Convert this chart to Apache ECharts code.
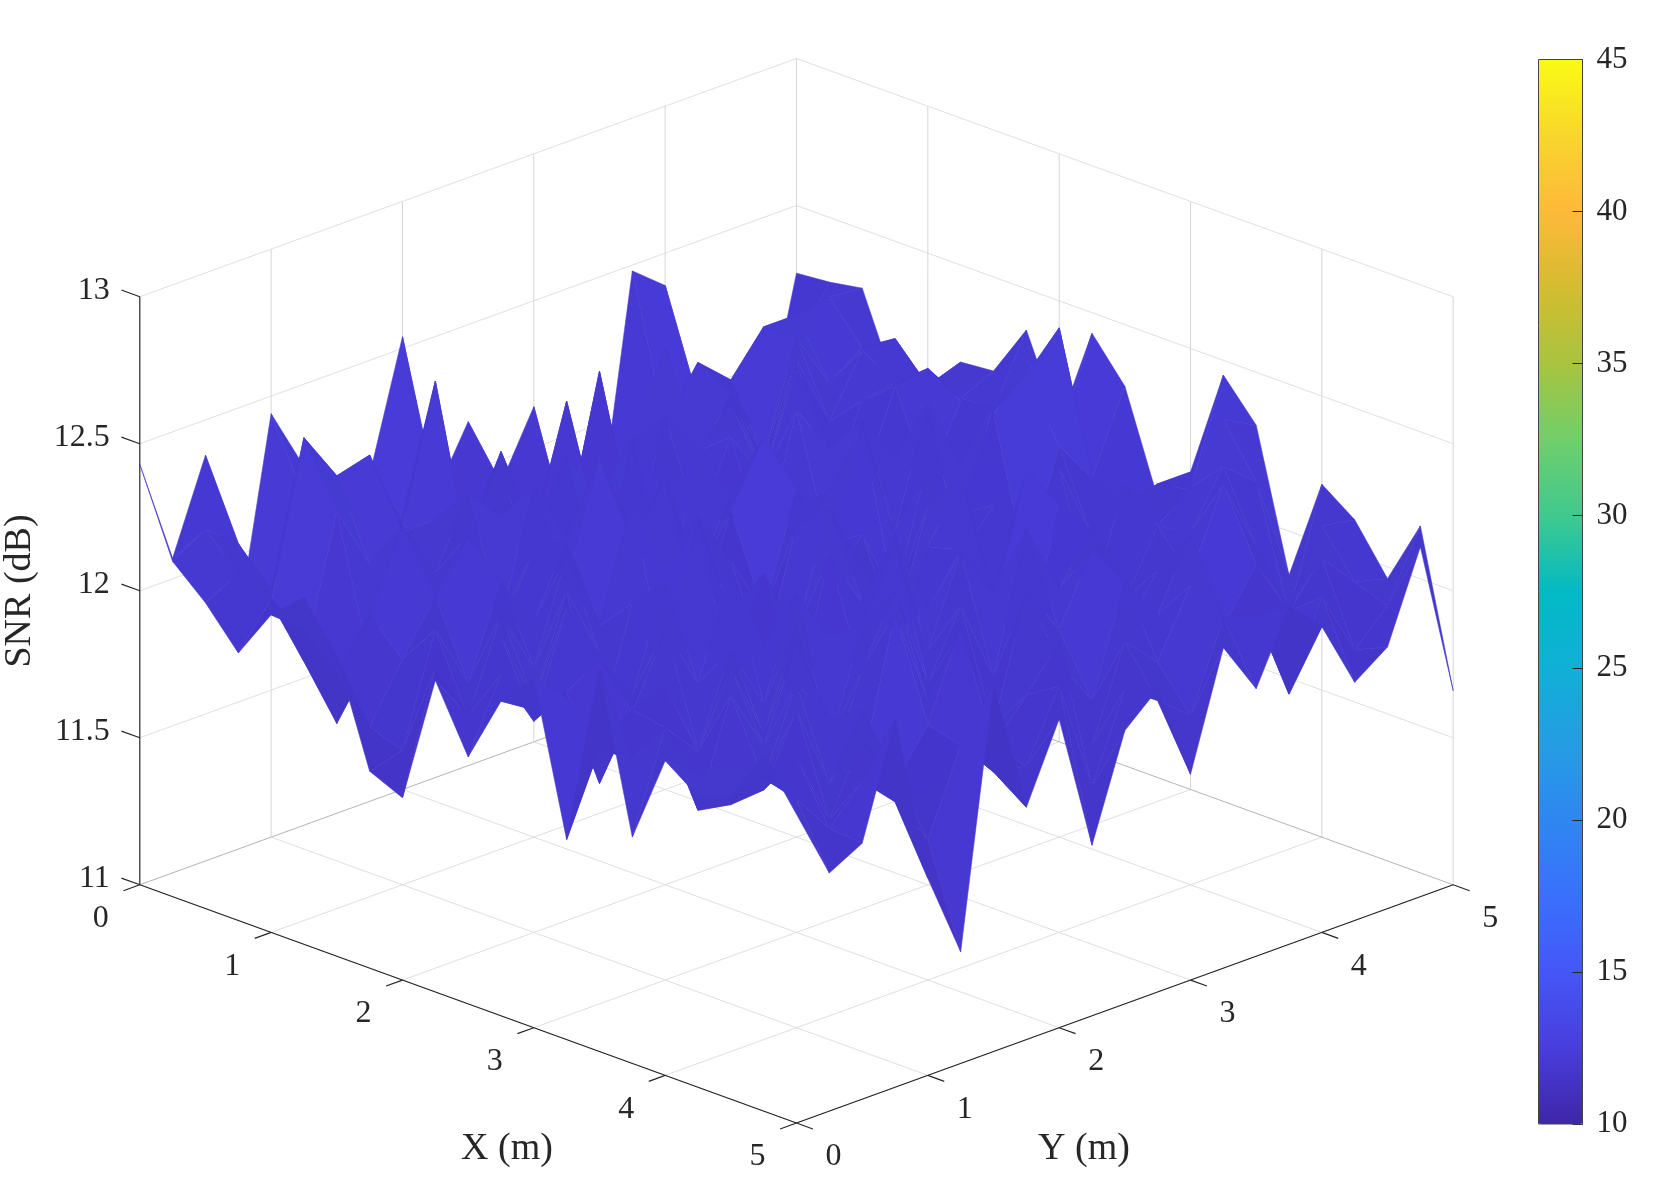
<!DOCTYPE html>
<html>
<head>
<meta charset="utf-8">
<title>SNR surface</title>
<style>
  html, body { margin: 0; padding: 0; background: #fff; }
  #chart { width: 1661px; height: 1187px; }
</style>
<script src="https://cdn.jsdelivr.net/npm/echarts@6/dist/echarts.min.js"></script>
</head>
<body>
<div id="chart"></div>
<script>
// tick labels
const xTicks = [0, 1, 2, 3, 4, 5];
const yTicks = [0, 1, 2, 3, 4, 5];
const zTicks = [11, 11.5, 12, 12.5, 13];
// colours of the colorbar, 10 to 45 dB
const parula = ['#3e26a8', '#483ddc', '#4556f7', '#3a70fb', '#2e87f0', '#259de3', '#10b0d6', '#03bac4',
  '#3fc98f', '#70cf6c', '#a8c43f', '#d4bc30', '#feb93a', '#f8d62c', '#f9fb15'];

// SNR in dB. one row per x (0 to 5 m, step 0.25), one column per y
const snrRows = [
  [12.43,12.07,12.38,11.77,12.44,12.22,12.06,12.11,12.54,11.96,12.17,11.92,12.14,11.68,11.68,12.48,12.39,11.96,11.88,11.77,12.27],
  [12.14,12.21,12.12,11.92,12.20,12.12,12.05,12.01,12.06,11.87,12.00,11.80,11.76,12.26,11.70,12.00,12.04,11.94,12.05,12.10,12.28],
  [12.04,12.10,11.96,12.48,12.31,12.34,12.05,12.51,11.89,12.19,11.88,12.28,11.79,11.78,12.08,12.25,12.15,12.29,12.29,12.31,12.30],
  [11.91,12.05,11.80,12.27,12.05,12.12,12.12,11.97,12.20,11.96,11.97,11.87,12.14,12.42,12.01,12.18,11.93,12.29,12.10,12.18,12.01],
  [12.08,11.99,11.63,11.80,12.22,12.02,12.25,12.13,11.92,12.25,12.08,11.85,12.27,12.11,12.23,11.96,12.30,12.05,12.25,12.25,12.05],
  [12.18,11.88,12.04,12.30,11.97,12.19,11.86,12.28,12.06,11.83,12.32,12.09,11.94,12.20,12.02,12.35,11.89,12.16,12.18,12.13,12.17],
  [12.02,11.74,11.93,12.10,12.26,11.91,12.14,11.99,12.37,12.07,11.82,12.24,12.01,11.87,12.29,12.12,11.95,12.25,12.27,12.13,12.18],
  [11.67,11.70,12.07,11.85,12.15,11.98,12.21,11.88,12.11,12.30,11.93,12.17,12.32,12.03,11.86,12.25,12.09,11.97,12.20,12.13,12.36],
  [11.62,12.02,11.81,12.12,11.90,12.24,11.96,12.34,12.05,11.84,12.19,12.40,11.99,12.14,12.27,11.92,12.31,12.06,12.22,12.35,12.08],
  [12.06,11.90,12.13,11.87,12.20,11.95,12.08,11.79,12.29,12.10,11.89,12.26,12.04,12.38,11.98,12.15,11.83,12.33,12.30,12.12,12.43],
  [11.84,12.08,11.88,12.23,11.78,12.16,11.92,12.35,12.01,11.81,12.22,11.97,12.11,11.85,12.28,12.06,12.36,12.45,12.57,12.02,12.29],
  [12.07,12.00,12.02,12.09,11.93,12.27,12.03,11.86,12.18,11.94,12.32,12.07,11.82,12.21,11.99,12.13,11.88,12.25,12.10,11.95,11.95],
  [12.19,12.08,11.75,11.95,12.19,11.97,12.30,12.02,11.80,12.24,12.04,11.90,12.15,12.34,11.91,12.08,12.26,11.98,12.05,12.08,12.08],
  [11.68,11.95,12.04,12.08,11.83,12.12,11.90,12.23,12.05,11.87,12.31,12.02,12.18,11.93,12.37,12.09,11.85,12.20,12.03,12.10,12.45],
  [12.30,11.95,12.02,11.90,12.14,11.88,12.20,11.76,12.12,12.35,11.96,12.25,12.07,11.84,12.29,12.16,11.98,12.10,12.19,12.38,12.32],
  [11.77,12.10,11.78,12.13,11.92,12.22,11.74,12.06,12.28,11.93,12.15,11.87,12.33,12.09,12.24,11.97,12.18,12.12,12.30,12.21,11.85],
  [12.07,11.98,11.84,11.89,12.17,12.01,11.81,12.29,11.95,12.14,11.78,12.20,12.03,12.26,11.94,12.11,12.05,12.32,12.07,11.80,12.20],
  [11.99,12.06,11.93,12.16,11.87,12.08,11.79,11.95,12.24,11.86,12.13,12.00,11.83,12.19,12.04,12.27,11.92,12.09,11.90,12.14,12.12],
  [12.03,12.05,12.08,11.83,12.06,11.90,11.78,11.92,11.88,12.01,12.15,11.76,12.07,11.96,12.18,12.03,12.00,11.97,12.11,11.99,11.96],
  [12.21,12.02,11.88,12.00,11.89,11.72,12.00,11.87,11.85,12.08,11.70,11.99,11.91,11.82,12.11,12.08,11.77,12.06,11.84,11.95,12.18],
  [12.05,11.81,11.87,12.25,11.67,11.38,12.25,11.79,12.05,11.58,11.93,12.03,11.70,12.09,11.91,12.15,12.04,11.81,11.89,12.19,11.66]
];

const GRID_STEP = 0.25;   // metres between two surface points
const SKEW = 0.16204;     // how far one metre along x or y shifts the picture, in dB of the z scale
const FONT = '"Liberation Serif", "Times New Roman", serif';
const INK = '#262626';

// oblique view of the box: u runs along the page, v up the page. Both go to the hidden value axes
function project (x, y, z) {
  return [x + y, z - (x - y) * SKEW];
}

// floor and walls of the box
const zMin = zTicks[0];
const zMax = zTicks[zTicks.length - 1];
const gridSegments = [];
xTicks.forEach(function (x) {
  gridSegments.push([x, 0, zMin, x, 5, zMin, x === 0 ? '#b4b4b4' : '#dfdfdf', 1]);
  if (x > 0) gridSegments.push([x, 5, zMin, x, 5, zMax, '#d6d6d6', 1]);
});
yTicks.forEach(function (y) {
  gridSegments.push([0, y, zMin, 5, y, zMin, y === 5 ? '#b4b4b4' : '#dfdfdf', 1]);
  if (y > 0) gridSegments.push([0, y, zMin, 0, y, zMax, '#d6d6d6', 1]);
});
zTicks.slice(1).forEach(function (z) {
  gridSegments.push([0, 0, z, 0, 5, z, '#e0e0e0', 1]);
  gridSegments.push([0, 5, z, 5, 5, z, '#e0e0e0', 1]);
});
// axis lines and ticks
gridSegments.push([0, 0, zMin, 0, 0, zMax, INK, 1.2]);
gridSegments.push([0, 0, zMin, 5, 0, zMin, INK, 1.2]);
gridSegments.push([5, 0, zMin, 5, 5, zMin, INK, 1.2]);
zTicks.forEach(function (z) { gridSegments.push([0, 0, z, -0.14, 0, z, INK, 1.2]); });
xTicks.forEach(function (x) { gridSegments.push([x, 0, zMin, x, -0.125, zMin, INK, 1.2]); });
yTicks.forEach(function (y) { gridSegments.push([5, y, zMin, 5.125, y, zMin, INK, 1.2]); });

// tick labels: position in the box, then a small pixel offset
const tickLabels = [];
zTicks.forEach(function (z) { tickLabels.push({ at: project(0, 0, z), text: String(z), dx: -30, dy: -6, align: 'right' }); });
xTicks.forEach(function (x) { tickLabels.push({ at: project(x, 0, zMin), text: String(x), dx: -39, dy: 34, align: 'center' }); });
yTicks.forEach(function (y) { tickLabels.push({ at: project(5, y, zMin), text: String(y), dx: 37, dy: 34, align: 'center' }); });

// one quad per grid cell, back to front so nearer cells paint over the far ones
const quads = [];
for (let i = 0; i < snrRows.length - 1; i++) {
  for (let j = 0; j < snrRows[i].length - 1; j++) {
    const mean = (snrRows[i][j] + snrRows[i + 1][j] + snrRows[i + 1][j + 1] + snrRows[i][j + 1]) / 4;
    quads.push([i, j, mean]);
  }
}
quads.sort(function (a, b) { return (a[0] - a[1]) - (b[0] - b[1]); });

function renderGrid (params, api) {
  const s = gridSegments[params.dataIndex];
  const a = api.coord(project(s[0], s[1], s[2]));
  const b = api.coord(project(s[3], s[4], s[5]));
  return {
    type: 'line',
    shape: { x1: a[0], y1: a[1], x2: b[0], y2: b[1] },
    style: { stroke: s[6], lineWidth: s[7], fill: null }
  };
}

function renderLabel (params, api) {
  const t = tickLabels[params.dataIndex];
  const p = api.coord(t.at);
  return {
    type: 'text',
    style: {
      text: t.text, x: p[0] + t.dx, y: p[1] + t.dy,
      fill: INK, font: '32px ' + FONT, align: t.align, verticalAlign: 'middle'
    }
  };
}

function renderQuad (params, api) {
  const i = api.value(0);
  const j = api.value(1);
  const z = snrRows;
  const corners = [[i, j], [i + 1, j], [i + 1, j + 1], [i, j + 1]].map(function (c) {
    return api.coord(project(c[0] * GRID_STEP, c[1] * GRID_STEP, z[c[0]][c[1]]));
  });
  // faces turned to the viewer get a little lighter
  const gx = (z[i + 1][j] + z[i + 1][j + 1] - z[i][j] - z[i][j + 1]) / 2;
  const gy = (z[i][j + 1] + z[i + 1][j + 1] - z[i][j] - z[i + 1][j]) / 2;
  const shade = 0.975 + Math.max(-0.05, Math.min(0.035, 0.07 * (gy - gx)));
  const rgb = echarts.color.parse(api.visual('color'));
  const fill = 'rgb(' + Math.round(rgb[0] * shade) + ',' + Math.round(rgb[1] * shade) + ',' + Math.round(rgb[2] * shade) + ')';
  return {
    type: 'polygon',
    shape: { points: corners },
    style: { fill: fill, stroke: fill, lineWidth: 0.6 }
  };
}

const chart = echarts.init(document.getElementById('chart'));
chart.setOption({
  animation: false,
  backgroundColor: '#fff',
  grid: [
    { left: 139.8, right: 207.8, top: 58.5, bottom: 64 },
    { left: 1538.5, width: 44, top: 59.5, bottom: 63 }
  ],
  xAxis: [
    { type: 'value', gridIndex: 0, min: 0, max: 10, show: false },
    { type: 'value', gridIndex: 1, min: 0, max: 1, show: false }
  ],
  yAxis: [
    { type: 'value', gridIndex: 0, min: zMin - 5 * SKEW, max: zMax + 5 * SKEW, show: false },
    {
      type: 'value', gridIndex: 1, min: 10, max: 45, interval: 5, position: 'right', z: 10,
      splitLine: { show: false },
      axisLine: { show: true, onZero: false, lineStyle: { color: '#444', width: 1 } },
      axisTick: { show: true, inside: true, length: 10, lineStyle: { color: INK, width: 1 } },
      axisLabel: { margin: 14, color: INK, fontSize: 31, fontFamily: FONT, padding: [8, 0, 0, 0] }
    }
  ],
  visualMap: {
    type: 'continuous',
    min: 10,
    max: 45,
    seriesIndex: 2,
    dimension: 2,
    calculable: false,
    hoverLink: false,
    left: 1538.5,
    top: 59.5,
    itemWidth: 44,
    itemHeight: 1064.5,
    padding: 0,
    text: null,
    inRange: { color: parula }
  },
  graphic: [
    { type: 'rect', z: 20, silent: true, shape: { x: 1538.5, y: 59.5, width: 44, height: 1064.5 }, style: { fill: null, stroke: '#444', lineWidth: 1 } },
    { type: 'text', x: 507, y: 1149, style: { text: 'X (m)', fill: INK, font: '38px ' + FONT, align: 'center', verticalAlign: 'middle' } },
    { type: 'text', x: 1084, y: 1149, style: { text: 'Y (m)', fill: INK, font: '38px ' + FONT, align: 'center', verticalAlign: 'middle' } },
    { type: 'text', x: 20, y: 591, rotation: Math.PI / 2, style: { text: 'SNR (dB)', fill: INK, font: '38px ' + FONT, align: 'center', verticalAlign: 'middle' } }
  ],
  series: [
    { type: 'custom', name: 'box', coordinateSystem: 'cartesian2d', xAxisIndex: 0, yAxisIndex: 0, silent: true, clip: false, z: 1, renderItem: renderGrid, data: gridSegments.map(function (s, n) { return [n]; }) },
    { type: 'custom', name: 'tick labels', coordinateSystem: 'cartesian2d', xAxisIndex: 0, yAxisIndex: 0, silent: true, clip: false, z: 1, renderItem: renderLabel, data: tickLabels.map(function (t, n) { return [n]; }) },
    { type: 'custom', name: 'SNR', coordinateSystem: 'cartesian2d', xAxisIndex: 0, yAxisIndex: 0, silent: true, clip: false, z: 2, renderItem: renderQuad, data: quads }
  ]
});
</script>
</body>
</html>
